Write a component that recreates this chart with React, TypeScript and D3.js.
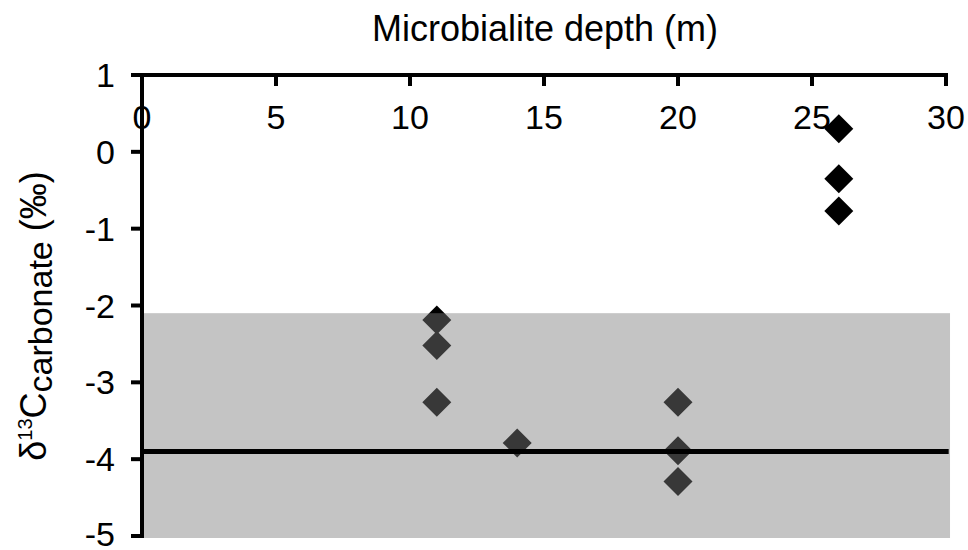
import * as d3 from 'd3';

const depths = [11, 11, 11, 14, 20, 20, 20, 26, 26, 26];
const d13C = [-2.19, -2.52, -3.26, -3.79, -3.26, -3.89, -4.29, 0.3, -0.35, -0.77];
const xTicks = [0, 5, 10, 15, 20, 25, 30];
const yTicks = [1, 0, -1, -2, -3, -4, -5];
const bandRange = [-2.1, -5]; // grey shaded interval
const bandEndX = 30.15;
const refLine = -3.9;

const W = 968;
const H = 550;
const font = 'Arial, "Liberation Sans", sans-serif';

export default function App() {
  const x = d3.scaleLinear().domain([0, 30]).range([142, 946]);
  const y = d3.scaleLinear().domain([-5, 1]).range([536, 75]);
  const diamond = d3.symbol(d3.symbolSquare, 420)() ?? '';
  const points = depths.map((d, i) => ({ d, v: d13C[i] }));

  return (
    <div style={{ position: 'absolute', left: 0, top: 0 }}>
      <svg width={W} height={H} style={{ display: 'block', background: '#fff' }}>
        <text x={545} y={41} textAnchor="middle" fontSize={36} fontFamily={font} fill="#000">
          Microbialite depth (m)
        </text>

        {/* points sit under the translucent band */}
        {points.map((p, i) => (
          <path key={i} d={diamond} transform={`translate(${x(p.d)},${y(p.v)}) rotate(45)`} fill="#000" />
        ))}

        <rect
          x={x(0)}
          y={y(bandRange[0])}
          width={x(bandEndX) - x(0)}
          height={y(bandRange[1]) - y(bandRange[0]) + 2}
          fill="#7c7c7c"
          fillOpacity={0.45}
        />
        <line x1={x(0)} x2={x(30.1)} y1={y(refLine)} y2={y(refLine)} stroke="#000" strokeWidth={5} />

        {/* y axis */}
        <line x1={x(0)} x2={x(0)} y1={y(1) - 2} y2={y(-5) + 2} stroke="#000" strokeWidth={4} />
        {yTicks.map((t) => (
          <g key={t} transform={`translate(0,${y(t)})`}>
            <line x1={x(0) - 11} x2={x(0)} stroke="#000" strokeWidth={4} />
            <text x={115} y={t === -5 ? 10 : 12} textAnchor="end" fontSize={34} fontFamily={font} fill="#000">
              {t}
            </text>
          </g>
        ))}

        {/* x axis on top */}
        <line x1={x(0) - 2} x2={x(30) + 2} y1={y(1)} y2={y(1)} stroke="#000" strokeWidth={4} />
        {xTicks.map((t) => (
          <g key={t} transform={`translate(${x(t)},${y(1)})`}>
            <line y1={0} y2={11} stroke="#000" strokeWidth={4} />
            <text y={54} textAnchor="middle" fontSize={34} fontFamily={font} fill="#000">
              {t}
            </text>
          </g>
        ))}

        <text
          transform="translate(46,316) rotate(-90)"
          textAnchor="middle"
          fontSize={36}
          fontFamily={font}
          fill="#000"
        >
          δ
          <tspan fontSize={20} dy={-14}>13</tspan>
          <tspan fontSize={36} dy={14}>C</tspan>
          <tspan fontSize={34} dy={6}>carbonate</tspan>
          <tspan fontSize={36} dy={-6}> (‰)</tspan>
        </text>
      </svg>
    </div>
  );
}
